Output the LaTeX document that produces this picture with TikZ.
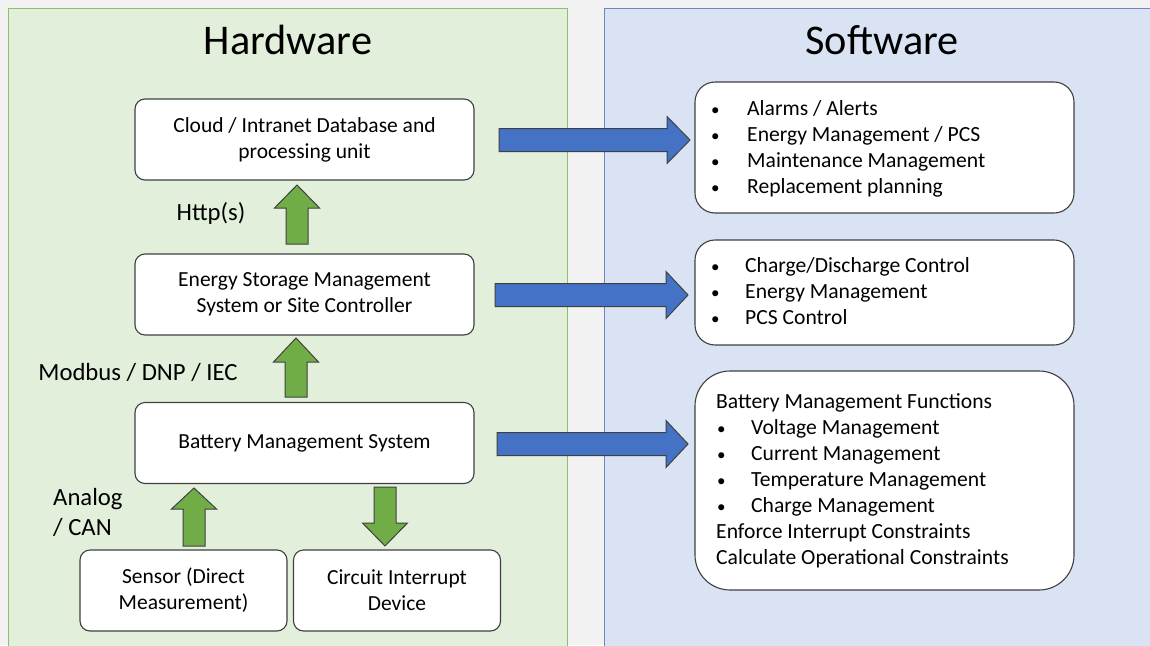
\documentclass[tikz,border=0pt]{standalone}
\usepackage{fontspec}
\setmainfont{Carlito}
\definecolor{bgc}{HTML}{F2F2F2}
\definecolor{hwfill}{HTML}{E2EFDA}
\definecolor{hwline}{HTML}{8CC06A}
\definecolor{swfill}{HTML}{DAE3F3}
\definecolor{swline}{HTML}{6F86BE}
\definecolor{garrow}{HTML}{70AD47}
\definecolor{barrow}{HTML}{4472C4}
\definecolor{boxline}{HTML}{404040}
\newcommand\grnup[4]{% cx, tip, headbase, bottom
  \filldraw[arrowstyle, fill=garrow] (#1-11,#4) -- (#1-11,#3) -- (#1-22.5,#3) -- (#1,#2) -- (#1+22.5,#3) -- (#1+11,#3) -- (#1+11,#4) -- cycle;}
\newcommand\grndown[4]{% cx, top, headbase, tip
  \filldraw[arrowstyle, fill=garrow] (#1-11,#2) -- (#1-11,#3) -- (#1-22.5,#3) -- (#1,#4) -- (#1+22.5,#3) -- (#1+11,#3) -- (#1+11,#2) -- cycle;}
\newcommand\bluer[4]{% x0, headbase, tip, cy
  \filldraw[arrowstyle, fill=barrow] (#1,#4-11.5) -- (#2,#4-11.5) -- (#2,#4-23.5) -- (#3,#4) -- (#2,#4+23.5) -- (#2,#4+11.5) -- (#1,#4+11.5) -- cycle;}
\tikzset{
  arrowstyle/.style={draw=black!75, line width=1pt, line join=miter},
  hwbox/.style={draw=boxline, fill=white, line width=1.1pt, rounded corners=10pt, minimum width=339pt, minimum height=81pt, align=center, font=\fontsize{21.5}{26}\selectfont, inner sep=0pt},
  smallbox/.style={hwbox, minimum width=207pt},
  swbox/.style={draw=boxline, fill=white, line width=1.1pt, rounded corners=20pt, inner sep=0pt},
  swtext/.style={anchor=base west, inner sep=0pt, font=\fontsize{21.6}{26}\selectfont},
  bul/.style={anchor=base west, inner sep=0pt, font=\fontsize{17}{26}\selectfont},
  lbl/.style={inner sep=0pt, font=\fontsize{24.7}{30}\selectfont},
  title/.style={inner sep=0pt, font=\fontsize{42.3}{48}\selectfont}
}
\begin{document}
\begin{tikzpicture}[x=1pt,y=-1pt]
\useasboundingbox (0,0) rectangle (1150,645);
\clip (0,0) rectangle (1150,645);
\fill[bgc] (0,0) rectangle (1150,645);
\filldraw[draw=hwline, fill=hwfill, line width=1pt] (8,8) rectangle (567,700);
\filldraw[draw=swline, fill=swfill, line width=1pt] (604,8) rectangle (1200,700);

\node[title] (hwt) at (288,40) {Hardware};
\node[title] (swt) at (882,40) {Software};

% hardware boxes
\node[hwbox] (cloud) at (304.5,139.5) {Cloud / Intranet Database and\\processing unit};
\node[hwbox] (esms) at (304.5,294.5) {Energy Storage Management\\System or Site Controller};
\node[hwbox] (bms) at (304.5,443) {Battery Management System};
\node[smallbox] (sensor) at (183.5,590.5) {Sensor (Direct\\Measurement)};
\node[smallbox] (cid) at (397,590.5) {Circuit Interrupt\\Device};

% labels
\node[lbl] (http) at (211,213) {Http(s)};
\node[lbl] (modbus) at (138,372) {Modbus / DNP / IEC};
\node[lbl, align=left, anchor=west] (analog) at (53,512) {Analog\\/ CAN};

% green arrows
\grnup{297}{185}{208}{244}
\grnup{296}{338}{362}{397}
\grnup{194}{488}{509}{546}
\grndown{385}{487}{523}{546}

% blue arrows
\bluer{499}{667}{690}{140}
\bluer{495}{666}{688}{295}
\bluer{497}{666}{688}{444}

% software boxes
\node[swbox, minimum width=379pt, minimum height=131pt] (sw1) at (884.5,147.5) {};
\node[swbox, minimum width=379pt, minimum height=105pt] (sw2) at (884.5,292.5) {};
\node[swbox, rounded corners=35pt, minimum width=379pt, minimum height=219pt] (sw3) at (884.5,480.5) {};

\foreach \t [count=\i] in {Alarms / Alerts, Energy Management / PCS, Maintenance Management, Replacement planning}{
  \node[bul] (a\i) at (711,{115+26*(\i-1)}) {\textbullet};
  \node[swtext] (at\i) at (747,{115+26*(\i-1)}) {\t};
}
\foreach \t [count=\i] in {Charge/Discharge Control, Energy Management, PCS Control}{
  \node[bul] (b\i) at (711,{272+26*(\i-1)}) {\textbullet};
  \node[swtext] (bt\i) at (745,{272+26*(\i-1)}) {\t};
}
\node[swtext] (c0) at (716,408) {Battery Management Functions};
\foreach \t [count=\i] in {Voltage Management, Current Management, Temperature Management, Charge Management}{
  \node[bul] (c\i) at (717,{408+26*\i}) {\textbullet};
  \node[swtext] (ct\i) at (751,{408+26*\i}) {\t};
}
\node[swtext] (c5) at (716,538) {Enforce Interrupt Constraints};
\node[swtext] (c6) at (716,564) {Calculate Operational Constraints};
\end{tikzpicture}
\end{document}
